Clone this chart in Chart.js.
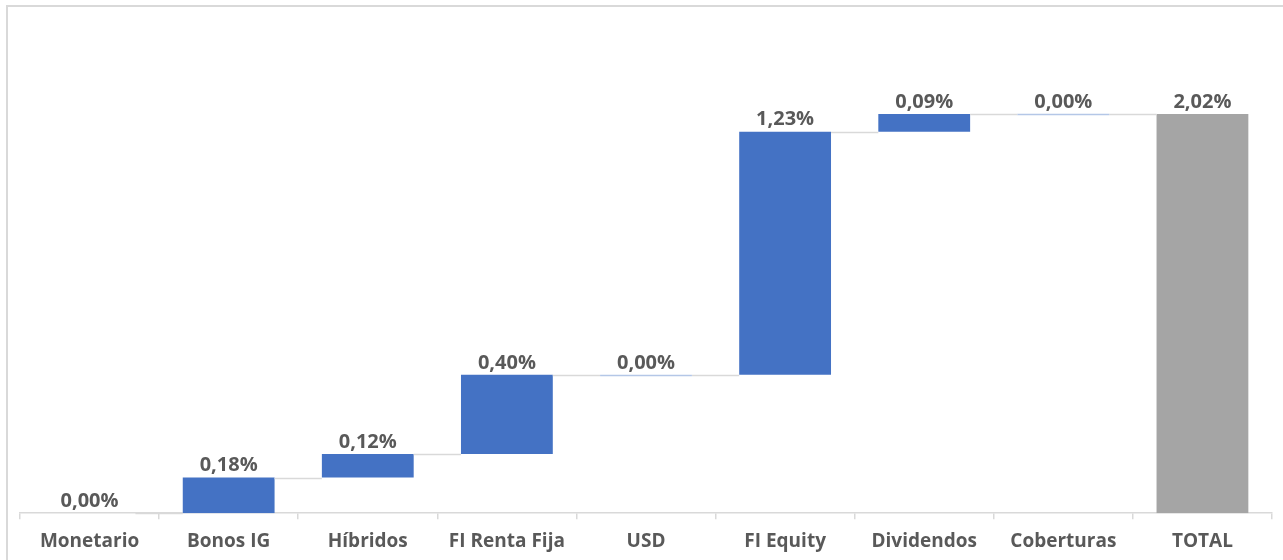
<!DOCTYPE html>
<html>
<head>
<meta charset="utf-8">
<script src="https://cdn.jsdelivr.net/npm/chart.js@4"></script>
<style>
body{margin:0;background:#fff;overflow:hidden}
#wrap{position:absolute;left:6px;top:5px;width:1290px;height:575px;border:1px solid #d9d9d9;border-width:2px 0 0 2px}
</style>
</head>
<body>
<div id="wrap"><canvas id="chart" width="1275" height="561"></canvas></div>
<script>
// categorias y contribuciones (%)
let categories=["Monetario","Bonos IG","Híbridos","FI Renta Fija","USD","FI Equity","Dividendos","Coberturas","TOTAL"]
let values=[0.00,0.18,0.12,0.40,0.00,1.23,0.09,0.00,2.02]
let labels=["0,00%","0,18%","0,12%","0,40%","0,00%","1,23%","0,09%","0,00%","2,02%"]

// tramos flotantes
let ranges=[]
let run=0
for(let i=0;i<values.length;i++){
    if(i===values.length-1){
        ranges.push([0,values[i]])
    } else {
        ranges.push([run,run+values[i]])
        run=run+values[i]
    }
}
let colors=values.map((v,i)=>i===values.length-1?"#a5a5a5":"#4472c4")

const waterfallExtras={
    id:"waterfallExtras",
    afterDatasetsDraw(chart){
        const c=chart.ctx
        const meta=chart.getDatasetMeta(0)
        const y=chart.scales.y
        c.save()
        // conectores
        c.strokeStyle="#d9d9d9"
        c.lineWidth=1.5
        for(let i=0;i<meta.data.length-1;i++){
            let a=meta.data[i], b=meta.data[i+1]
            let yy=Math.round(y.getPixelForValue(ranges[i][1]))+0.5
            c.beginPath()
            c.moveTo(a.x+a.width/2,yy)
            c.lineTo(b.x-b.width/2,yy)
            c.stroke()
        }
        // barras a cero
        c.strokeStyle="#b4c7e7"
        meta.data.forEach((bar,i)=>{
            if(values[i]===0 && ranges[i][1]>0){
                let yy=Math.round(y.getPixelForValue(ranges[i][1]))+0.5
                c.beginPath()
                c.moveTo(bar.x-bar.width/2,yy)
                c.lineTo(bar.x+bar.width/2,yy)
                c.stroke()
            }
        })
        // etiquetas
        c.fillStyle="#595959"
        c.font="bold 20px 'Open Sans', sans-serif"
        c.textAlign="center"
        c.textBaseline="bottom"
        meta.data.forEach((bar,i)=>{
            let top=y.getPixelForValue(Math.max(ranges[i][0],ranges[i][1]))
            c.fillText(labels[i],bar.x,top-2)
        })
        c.restore()
    }
}

const ctx=document.getElementById("chart").getContext("2d")
new Chart(ctx,{
    type:"bar",
    data:{
        labels:categories,
        datasets:[{
            data:ranges,
            backgroundColor:colors,
            borderWidth:0,
            barPercentage:0.66,
            categoryPercentage:1
        }]
    },
    options:{
        responsive:false,
        animation:false,
        layout:{padding:{left:12,right:11,top:12,bottom:4}},
        plugins:{legend:{display:false},tooltip:{enabled:false}},
        scales:{
            x:{
                offset:true,
                grid:{display:true,drawOnChartArea:false,offset:true,color:"#d9d9d9",lineWidth:1.5,tickLength:6},
                border:{display:true,color:"#d9d9d9",width:1.5},
                ticks:{color:"#595959",font:{family:"'Open Sans', sans-serif",size:19,weight:"bold"},padding:11,maxRotation:0}
            },
            y:{
                display:false,
                min:0,
                max:2.5
            }
        }
    },
    plugins:[waterfallExtras]
})
</script>
</body>
</html>
